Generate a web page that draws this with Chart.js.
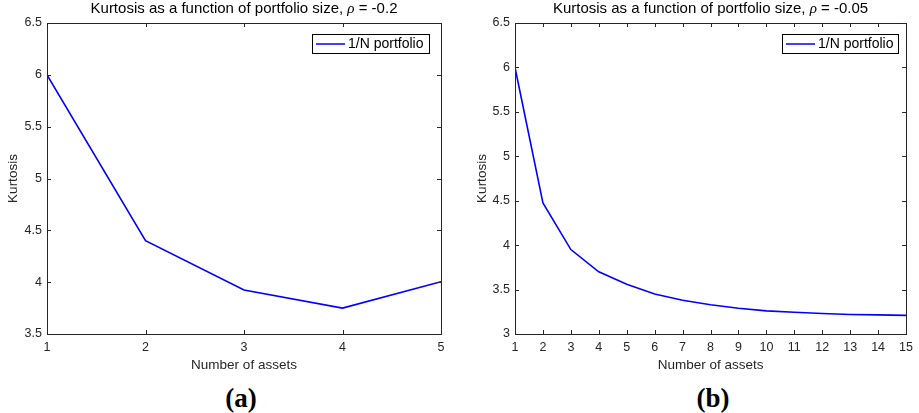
<!DOCTYPE html>
<html>
<head>
<meta charset="utf-8">
<script src="https://cdn.jsdelivr.net/npm/chart.js@4/dist/chart.umd.min.js"></script>
<style>
  html, body { margin: 0; padding: 0; background: #fff; }
  body { width: 919px; height: 413px; position: relative; overflow: hidden; }
  .wrap { position: absolute; top: 0; height: 375px; }
  .cap { position: absolute; font-family: "Liberation Serif", "Times New Roman", serif; font-weight: bold; font-size: 27px; color: #000; transform: translate(-50%, -50%); top: 398px; }
</style>
</head>
<body>
<div class="wrap" style="left:0;width:460px;"><canvas id="ca" width="460" height="375"></canvas></div>
<div class="wrap" style="left:460px;width:459px;"><canvas id="cb" width="459" height="375"></canvas></div>
<div class="cap" style="left:241px;">(a)</div>
<div class="cap" style="left:713px;">(b)</div>
<script>
// ---- data ----
const assetsA = [1, 2, 3, 4, 5];
const kurtosisA = [6.0, 4.4, 3.925, 3.75, 4.005];
const assetsB = [1, 2, 3, 4, 5, 6, 7, 8, 9, 10, 11, 12, 13, 14, 15];
const kurtosisB = [6.0, 4.475, 3.95, 3.70, 3.56, 3.45, 3.38, 3.33, 3.29, 3.26, 3.245, 3.23, 3.22, 3.215, 3.21];
const seriesName = '1/N portfolio';
const titleA = ['Kurtosis as a function of portfolio size, ', 'ρ', ' = -0.2'];
const titleB = ['Kurtosis as a function of portfolio size, ', 'ρ', ' = -0.05'];
const xLabel = 'Number of assets';
const yLabel = 'Kurtosis';

const AX = '#262626';
const FONT = '"Liberation Sans", Arial, Helvetica, sans-serif';

const matlabPlugin = {
  id: 'matlab',
  afterDraw(chart, args, opts) {
    const ctx = chart.ctx;
    const a = chart.chartArea;
    const xs = chart.scales.x, ys = chart.scales.y;
    ctx.save();
    // box
    ctx.strokeStyle = AX;
    ctx.lineWidth = 1;
    ctx.strokeRect(Math.round(a.left) + 0.5, Math.round(a.top) + 0.5, Math.round(a.right - a.left), Math.round(a.bottom - a.top));
    // inward ticks
    const tl = 4;
    ctx.beginPath();
    xs.ticks.forEach(t => {
      const px = Math.round(xs.getPixelForValue(t.value)) + 0.5;
      ctx.moveTo(px, a.bottom); ctx.lineTo(px, a.bottom - tl);
      ctx.moveTo(px, a.top); ctx.lineTo(px, a.top + tl);
    });
    ys.ticks.forEach(t => {
      const py = Math.round(ys.getPixelForValue(t.value)) + 0.5;
      ctx.moveTo(a.left, py); ctx.lineTo(a.left + tl, py);
      ctx.moveTo(a.right, py); ctx.lineTo(a.right - tl, py);
    });
    ctx.stroke();
    // title with italic rho
    const parts = opts.title;
    ctx.fillStyle = '#000';
    ctx.textBaseline = 'alphabetic';
    const fN = '15px ' + FONT;
    const fI = 'italic 15px "Liberation Serif", "Times New Roman", serif';
    const fonts = [fN, fI, fN];
    let widths = parts.map((p, i) => { ctx.font = fonts[i]; return ctx.measureText(p).width; });
    let total = widths.reduce((s, w) => s + w, 0);
    let x = (a.left + a.right) / 2 - total / 2;
    parts.forEach((p, i) => { ctx.font = fonts[i]; ctx.textAlign = 'left'; ctx.fillText(p, x, 13); x += widths[i]; });
    // legend box
    const lg = opts.legend;
    ctx.fillStyle = '#fff';
    ctx.fillRect(lg.x, lg.y, lg.w, lg.h);
    ctx.strokeStyle = '#000';
    ctx.lineWidth = 1;
    ctx.strokeRect(lg.x + 0.5, lg.y + 0.5, lg.w, lg.h);
    const ds = chart.data.datasets[0];
    ctx.strokeStyle = ds.borderColor;
    ctx.lineWidth = 1.5;
    ctx.beginPath();
    ctx.moveTo(lg.x + 4, lg.y + lg.h / 2 + 0.5);
    ctx.lineTo(lg.x + 33, lg.y + lg.h / 2 + 0.5);
    ctx.stroke();
    ctx.fillStyle = '#000';
    ctx.font = '14px ' + FONT;
    ctx.textBaseline = 'middle';
    ctx.textAlign = 'left';
    ctx.fillText(ds.label, lg.x + 36, lg.y + lg.h / 2 + 1);
    ctx.restore();
  }
};

function makeChart(id, xs, ys, xmax, ymin, yaxisW, rightPad, yTitlePad, title, legend) {
  return new Chart(document.getElementById(id), {
    type: 'line',
    data: {
      datasets: [{
        label: seriesName,
        data: xs.map((x, i) => ({ x: x, y: ys[i] })),
        borderColor: '#0000ff',
        borderWidth: 1.6,
        pointRadius: 0,
        fill: false,
        tension: 0
      }]
    },
    options: {
      responsive: false,
      animation: false,
      layout: { padding: { left: 0, right: rightPad, top: 23, bottom: 0 } },
      plugins: {
        legend: { display: false },
        title: { display: false },
        tooltip: { enabled: false },
        matlab: { title: title, legend: legend }
      },
      scales: {
        x: {
          type: 'linear', min: 1, max: xmax,
          grid: { display: false, drawTicks: false },
          border: { display: false },
          ticks: { stepSize: 1, padding: 6, color: AX, font: { family: FONT, size: 12.5 }, maxRotation: 0, autoSkip: false },
          title: { display: true, text: xLabel, color: AX, font: { family: FONT, size: 13.5 }, padding: { top: 0, bottom: 2 } },
          afterFit(s) { s.height = 41; }
        },
        y: {
          type: 'linear', min: ymin, max: 6.5,
          grid: { display: false, drawTicks: false },
          border: { display: false },
          ticks: { stepSize: 0.5, padding: 5, color: AX, font: { family: FONT, size: 12.5 }, callback: v => String(+v) },
          title: { display: true, text: yLabel, color: AX, font: { family: FONT, size: 13.5 }, padding: { top: yTitlePad, bottom: 0 } },
          afterFit(s) { s.width = yaxisW; }
        }
      }
    },
    plugins: [matlabPlugin]
  });
}

makeChart('ca', assetsA, kurtosisA, 5, 3.5, 47, 19, 5, titleA, { x: 312, y: 34, w: 117, h: 19 });
makeChart('cb', assetsB, kurtosisB, 15, 3, 55, 10, 14, titleB, { x: 322, y: 34, w: 116, h: 19 });
</script>
</body>
</html>
